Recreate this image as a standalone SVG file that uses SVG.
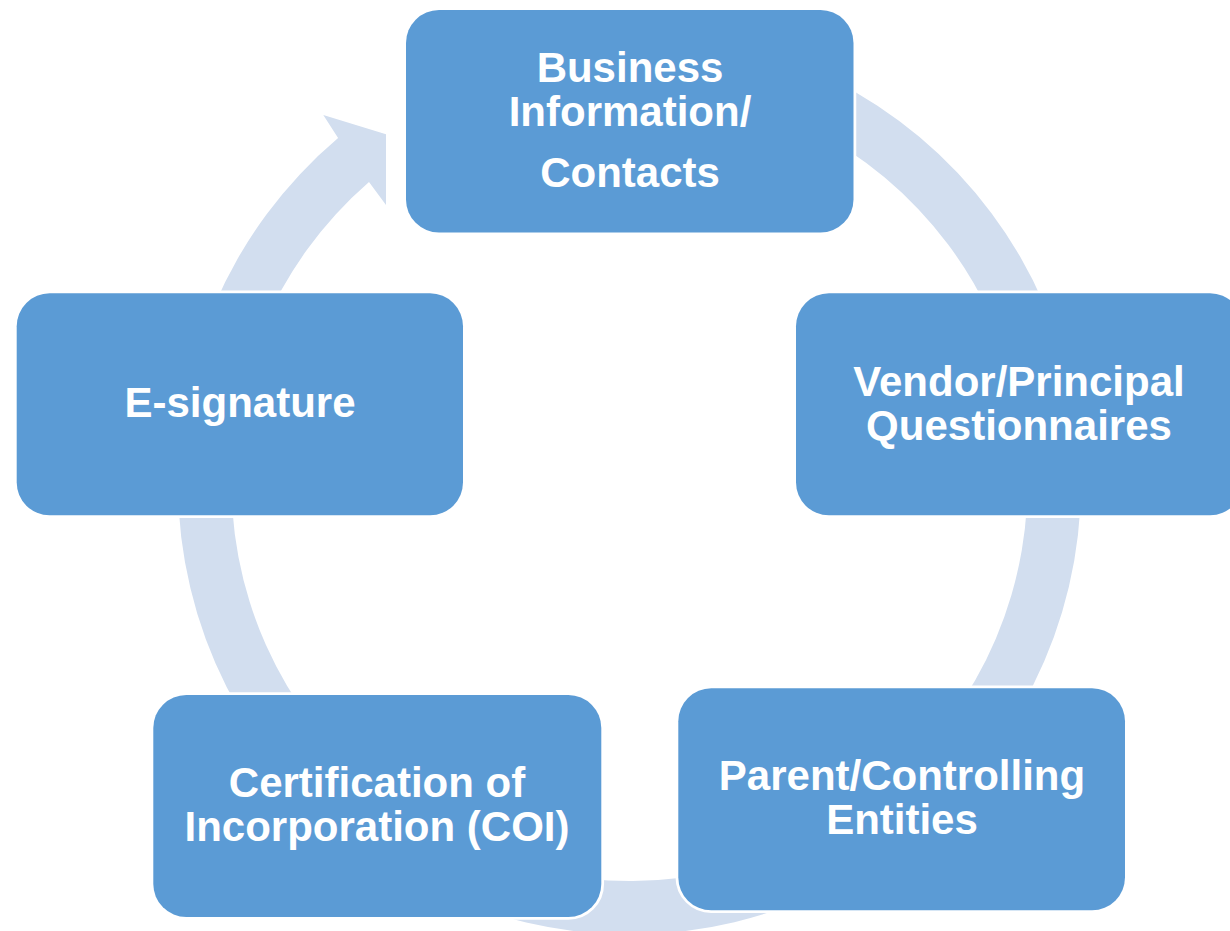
<svg xmlns="http://www.w3.org/2000/svg" width="1230" height="931" viewBox="0 0 1230 931">
  <style>
    .box { fill: #5B9BD5; stroke: #FFFFFF; stroke-width: 5.5; paint-order: stroke fill; }
    .ring { fill: #D2DEEF; stroke: none; }
    .label { fill: #FFFFFF; font-family: "Liberation Sans", Arial, sans-serif; font-weight: bold; font-size: 42px; text-anchor: middle; }
  </style>
  <rect width="1230" height="931" fill="#FFFFFF"/>

  <!-- circular arrow running clockwise behind the steps -->
  <g id="connectors">
    <path class="ring" d="M 629.5 31.5 A 451.5 451.5 0 1 1 338.1 138.1 L 323.3 115 L 386 134.3 L 386 205 L 369 182.1 A 398 398 0 1 0 629.5 85 Z"/>
  </g>

  <g id="node-business">
    <rect class="box" x="406" y="10" width="447.5" height="222.5" rx="33" ry="33"/>
    <text class="label" x="630" y="82">Business</text>
    <text class="label" x="630" y="126">Information/</text>
    <text class="label" x="630" y="187">Contacts</text>
  </g>

  <g id="node-vendor">
    <rect class="box" x="796" y="293.3" width="447" height="222" rx="33" ry="33"/>
    <text class="label" x="1019" y="396">Vendor/Principal</text>
    <text class="label" x="1019" y="440">Questionnaires</text>
  </g>

  <g id="node-parent">
    <rect class="box" x="678.3" y="688.3" width="446.7" height="222" rx="33" ry="33"/>
    <text class="label" x="902" y="790">Parent/Controlling</text>
    <text class="label" x="902" y="834">Entities</text>
  </g>

  <g id="node-coi">
    <rect class="box" x="153.3" y="695" width="448" height="222" rx="33" ry="33"/>
    <text class="label" x="377" y="797">Certification of</text>
    <text class="label" x="377" y="841">Incorporation (COI)</text>
  </g>

  <g id="node-esignature">
    <rect class="box" x="16.7" y="293.3" width="446.3" height="222" rx="33" ry="33"/>
    <text class="label" x="240" y="417">E-signature</text>
  </g>
</svg>
